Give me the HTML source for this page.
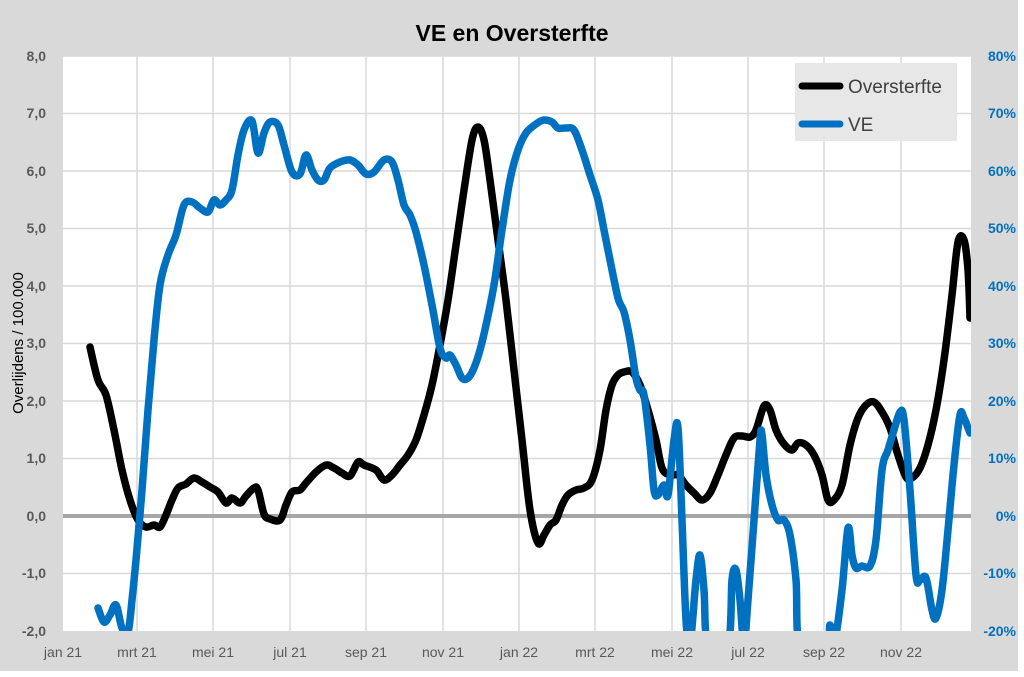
<!DOCTYPE html>
<html><head><meta charset="utf-8"><style>
body{margin:0;background:#fff}
svg{display:block;font-family:"Liberation Sans",sans-serif}
</style></head><body>
<svg id="s" width="1024" height="677" viewBox="0 0 1024 677">
<rect x="0" y="0" width="1018" height="671" fill="#d9d9d9"/>
<text x="512" y="41" text-anchor="middle" font-size="23" font-weight="bold" fill="#000">VE en Oversterfte</text>
<rect x="63" y="56" width="908" height="575" fill="#fff"/>
<g stroke="#d9d9d9" stroke-width="1.5">
<line x1="63" x2="971" y1="113.5" y2="113.5"/><line x1="63" x2="971" y1="171" y2="171"/>
<line x1="63" x2="971" y1="228.5" y2="228.5"/><line x1="63" x2="971" y1="286" y2="286"/>
<line x1="63" x2="971" y1="343.5" y2="343.5"/><line x1="63" x2="971" y1="401" y2="401"/>
<line x1="63" x2="971" y1="458.5" y2="458.5"/><line x1="63" x2="971" y1="573.5" y2="573.5"/>
<line x1="63" x2="971" y1="56" y2="56"/>
<line y1="56" y2="631" x1="137" x2="137"/><line y1="56" y2="631" x1="213" x2="213"/>
<line y1="56" y2="631" x1="290" x2="290"/><line y1="56" y2="631" x1="366" x2="366"/>
<line y1="56" y2="631" x1="443" x2="443"/><line y1="56" y2="631" x1="519" x2="519"/>
<line y1="56" y2="631" x1="595" x2="595"/><line y1="56" y2="631" x1="672" x2="672"/>
<line y1="56" y2="631" x1="748" x2="748"/><line y1="56" y2="631" x1="824" x2="824"/>
<line y1="56" y2="631" x1="901" x2="901"/>
</g>
<line x1="63" x2="971" y1="516" y2="516" stroke="#a6a6a6" stroke-width="4"/>
<g font-size="14" font-weight="bold" fill="#595959" text-anchor="end">
<text x="46" y="61">8,0</text><text x="46" y="118">7,0</text><text x="46" y="176">6,0</text>
<text x="46" y="233">5,0</text><text x="46" y="291">4,0</text><text x="46" y="348">3,0</text>
<text x="46" y="406">2,0</text><text x="46" y="463">1,0</text><text x="46" y="521">0,0</text>
<text x="46" y="578">-1,0</text><text x="46" y="636">-2,0</text>
</g>
<g font-size="14" font-weight="bold" fill="#0070c0" text-anchor="end">
<text x="1016" y="61">80%</text><text x="1016" y="118">70%</text><text x="1016" y="176">60%</text>
<text x="1016" y="233">50%</text><text x="1016" y="291">40%</text><text x="1016" y="348">30%</text>
<text x="1016" y="406">20%</text><text x="1016" y="463">10%</text><text x="1016" y="521">0%</text>
<text x="1016" y="578">-10%</text><text x="1016" y="636">-20%</text>
</g>
<g font-size="14" fill="#595959" text-anchor="middle">
<text x="63" y="657">jan 21</text><text x="137" y="657">mrt 21</text><text x="213" y="657">mei 21</text>
<text x="290" y="657">jul 21</text><text x="366" y="657">sep 21</text><text x="443" y="657">nov 21</text>
<text x="519" y="657">jan 22</text><text x="595" y="657">mrt 22</text><text x="672" y="657">mei 22</text>
<text x="748" y="657">jul 22</text><text x="824" y="657">sep 22</text><text x="901" y="657">nov 22</text>
</g>
<text transform="translate(23,343) rotate(-90)" text-anchor="middle" font-size="15" fill="#000">Overlijdens / 100.000</text>
<defs><clipPath id="c"><rect x="63" y="56" width="908" height="575"/></clipPath></defs>
<g id="lines" clip-path="url(#c)" fill="none" stroke-width="7.5" stroke-linejoin="round" stroke-linecap="round">
<polyline stroke="#000" points="90,347 98,380 106,395 114,430 122,470 130,500 138,520 146,527 154,525 160,527 166,515 172,500 178,488 186,484 194,478 202,482 210,487 218,492 226,503 232,498 240,503 246,496 254,488 258,490 264,514 270,519 280,520 286,505 292,492 300,490 306,483 316,472 326,465 334,468 342,473 350,476 358,462 364,465 376,470 384,480 392,475 400,465 408,455 416,440 424,415 432,385 440,345 448,300 456,245 464,190 472,140 478,127 484,140 490,180 498,240 506,300 514,370 522,440 530,510 538,543 544,535 550,525 556,520 562,505 568,495 576,490 584,488 592,480 600,450 606,410 612,385 618,375 624,372 632,372 640,385 648,410 656,440 662,468 670,475 678,475 686,485 694,493 702,500 710,493 718,475 726,455 734,438 742,436 750,437 756,430 764,406 770,410 776,430 784,444 792,450 798,443 806,445 814,455 822,475 828,500 834,500 842,485 850,445 858,418 866,405 874,402 882,412 890,428 898,455 906,477 912,478 920,468 928,445 936,410 944,360 952,295 958,242 964,240 968,270 970,318"/>
<polyline stroke="#0070c0" points="98,608 104,622 110,615 116,605 122,628 128,632 132,600 136,560 142,490 148,410 154,340 160,285 168,255 176,235 184,205 192,202 200,208 208,212 214,200 220,205 226,200 232,190 238,155 244,130 252,121 258,153 264,133 270,122 278,125 284,145 292,172 300,174 306,155 312,170 318,180 324,180 330,168 340,162 350,160 358,165 366,174 374,172 384,160 392,162 398,180 404,205 410,215 416,232 424,265 432,305 440,348 446,358 450,355 456,365 462,378 468,378 474,368 480,350 486,325 494,285 502,230 510,180 518,150 526,133 536,124 544,120 552,122 558,128 566,128 574,130 582,150 590,175 598,200 604,230 610,260 618,298 624,312 630,340 636,378 640,390 644,395 650,445 654,490 658,495 664,485 668,495 674,440 678,428 682,520 686,620 690,645 696,580 700,555 704,590 708,645 728,645 732,580 736,570 740,600 744,645 748,600 754,520 760,440 762,435 766,475 772,505 778,520 784,520 790,535 796,580 800,645 826,645 830,625 834,645 842,590 848,528 852,555 856,568 862,566 870,566 876,540 882,470 888,450 894,430 900,412 904,420 910,490 916,575 920,580 926,578 932,610 936,618 942,590 948,530 954,465 960,415 964,418 970,433"/>
</g>
<rect x="795" y="63" width="162" height="78" fill="#e7e7e7"/>
<line x1="802" x2="840" y1="86" y2="86" stroke="#000" stroke-width="7" stroke-linecap="round"/>
<text x="848" y="93" font-size="19" fill="#404040">Oversterfte</text>
<line x1="802" x2="840" y1="124" y2="124" stroke="#0070c0" stroke-width="7" stroke-linecap="round"/>
<text x="848" y="131" font-size="19" fill="#404040">VE</text>
</svg>
<script>
(function(){
var ns="http://www.w3.org/2000/svg";
document.querySelectorAll("#lines polyline").forEach(function(pl){
var p=pl.getAttribute("points").trim().split(/\s+/).map(function(s){return s.split(",").map(Number);});
var d="M"+p[0][0]+","+p[0][1];
for(var i=0;i<p.length-1;i++){
var p0=p[i-1]||p[i],p1=p[i],p2=p[i+1],p3=p[i+2]||p2;
var c1x=p1[0]+(p2[0]-p0[0])/6,c1y=p1[1]+(p2[1]-p0[1])/6;
var c2x=p2[0]-(p3[0]-p1[0])/6,c2y=p2[1]-(p3[1]-p1[1])/6;
d+="C"+c1x.toFixed(1)+","+c1y.toFixed(1)+" "+c2x.toFixed(1)+","+c2y.toFixed(1)+" "+p2[0]+","+p2[1];
}
var path=document.createElementNS(ns,"path");
path.setAttribute("d",d);path.setAttribute("stroke",pl.getAttribute("stroke"));
pl.parentNode.replaceChild(path,pl);
});
})();
</script>
</body></html>
